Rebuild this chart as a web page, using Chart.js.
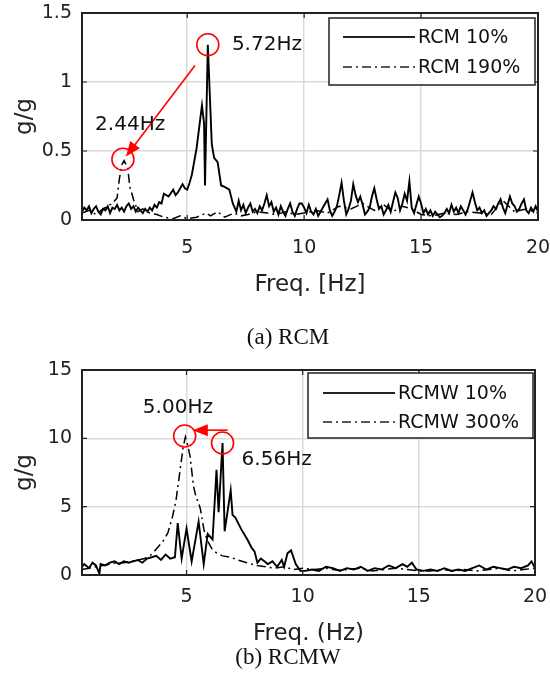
<!DOCTYPE html>
<html>
<head>
<meta charset="utf-8">
<script src="https://cdn.jsdelivr.net/npm/chart.js"></script>
<style>
  body { margin: 0; background: #fff; width: 550px; height: 698px; position: relative; overflow: hidden; }
  .box { position: absolute; left: 0; }
  .cap { position: absolute; font-family: "Liberation Serif", "Times New Roman", serif; font-size: 23px; color: #111;
         transform: translate(-50%, -50%); white-space: nowrap; }
</style>
</head>
<body>
<div class="box" style="top:0"><canvas id="rcm" width="550" height="350"></canvas></div>
<div class="box" style="top:350px"><canvas id="rcmw" width="550" height="348"></canvas></div>
<div class="cap" style="left:288px;top:337px">(a) RCM</div>
<div class="cap" style="left:288px;top:657px">(b) RCMW</div>
<script>
// tần số (Hz) và biên độ (g/g)
const rcm10Freq = [
  0.5, 0.6, 0.7, 0.8, 0.9, 1.0, 1.1, 1.2, 1.3, 1.4,
  1.5, 1.6, 1.7, 1.8, 1.9, 2.0, 2.1, 2.2, 2.3, 2.4,
  2.5, 2.6, 2.7, 2.8, 2.9, 3.0, 3.1, 3.2, 3.3, 3.4,
  3.5, 3.6, 3.7, 3.8, 3.9, 4.0,
  4.2, 4.4, 4.5, 4.6, 4.8, 4.9, 5.0, 5.1, 5.2, 5.4,
  5.63, 5.72, 5.76, 5.88, 6.05, 6.15, 6.3, 6.45, 6.6, 6.8, 6.95,
  7.0, 7.1, 7.2, 7.3, 7.4, 7.5, 7.6, 7.7, 7.8, 7.9,
  8.0, 8.1, 8.2, 8.3, 8.4, 8.5, 8.6, 8.7, 8.8, 8.9,
  9.0, 9.1, 9.2, 9.3, 9.4, 9.5, 9.6, 9.7, 9.8, 9.9,
  10.0, 10.1, 10.2, 10.3, 10.4, 10.5, 10.6, 10.7, 10.8, 10.9,
  11.0, 11.1, 11.2, 11.3, 11.4, 11.5, 11.6, 11.7, 11.8, 11.9,
  12.0, 12.1, 12.2, 12.3, 12.4, 12.5, 12.6, 12.7, 12.8, 12.9,
  13.0, 13.1, 13.2, 13.3, 13.4, 13.5, 13.6, 13.7, 13.8, 13.9,
  14.0, 14.1, 14.2, 14.3, 14.4, 14.5, 14.6, 14.7, 14.8, 14.9,
  15.0, 15.1, 15.2, 15.3, 15.4, 15.5, 15.6, 15.7, 15.8, 15.9,
  16.0, 16.1, 16.2, 16.3, 16.4, 16.5, 16.6, 16.7, 16.8, 16.9,
  17.0, 17.1, 17.2, 17.3, 17.4, 17.5, 17.6, 17.7, 17.8, 17.9,
  18.0, 18.1, 18.2, 18.3, 18.4, 18.5, 18.6, 18.7, 18.8, 18.9,
  19.0, 19.1, 19.2, 19.3, 19.4, 19.5, 19.6, 19.7, 19.8, 19.9,
  20.0
];
const rcm10Val = [
  0.06, 0.09, 0.07, 0.10, 0.05, 0.08, 0.10, 0.06, 0.04, 0.08,
  0.07, 0.10, 0.05, 0.09, 0.08, 0.11, 0.07, 0.09, 0.06, 0.10,
  0.12, 0.08, 0.10, 0.06, 0.09, 0.07, 0.05, 0.08, 0.06, 0.09,
  0.07, 0.11, 0.09, 0.13, 0.12, 0.19,
  0.17, 0.22, 0.18, 0.20, 0.26, 0.23, 0.22, 0.27, 0.33, 0.52,
  0.83, 0.70, 0.25, 1.27, 0.55, 0.45, 0.42, 0.25, 0.24, 0.22, 0.12,
  0.10, 0.06, 0.14, 0.07, 0.11, 0.05, 0.09, 0.12, 0.06, 0.08,
  0.05, 0.10, 0.07, 0.12, 0.18, 0.10, 0.13, 0.06, 0.09, 0.04,
  0.10, 0.06, 0.03, 0.08, 0.12, 0.06, 0.03, 0.08, 0.12, 0.12,
  0.09, 0.05, 0.11, 0.06, 0.04, 0.08, 0.03, 0.06, 0.09, 0.12,
  0.15, 0.07, 0.03, 0.06, 0.10, 0.18, 0.27, 0.14, 0.04, 0.08,
  0.14, 0.26, 0.18, 0.13, 0.17, 0.11, 0.04, 0.06, 0.09, 0.17,
  0.23, 0.15, 0.08, 0.10, 0.04, 0.07, 0.11, 0.06, 0.13, 0.20,
  0.16, 0.07, 0.12, 0.19, 0.14, 0.28, 0.09, 0.05, 0.11, 0.17,
  0.12, 0.05, 0.08, 0.04, 0.07, 0.03, 0.06, 0.04, 0.02, 0.03,
  0.05, 0.08, 0.05, 0.11, 0.06, 0.09, 0.05, 0.10, 0.07, 0.04,
  0.08, 0.14, 0.20, 0.13, 0.07, 0.09, 0.05, 0.07, 0.03, 0.05,
  0.07, 0.10, 0.08, 0.12, 0.15, 0.09, 0.05, 0.11, 0.17, 0.12,
  0.10, 0.06, 0.08, 0.12, 0.15, 0.07, 0.05, 0.09, 0.06, 0.10,
  0.06
];
const rcm190Freq = [
  0.5, 0.8, 1.1, 1.4, 1.6, 1.8, 2.0, 2.1, 2.2, 2.3,
  2.45, 2.55, 2.7, 2.9, 3.1, 3.4, 3.7, 4.0, 4.4, 4.7,
  5.0, 5.4, 5.8, 6.0, 6.3, 6.6, 7.0, 7.3, 7.6, 8.0,
  8.4, 8.8, 9.2, 9.6, 10.0, 10.5, 11.0, 11.5, 12.0, 12.5,
  13.0, 13.4, 13.8, 14.2, 14.6, 15.0, 15.5, 16.0, 16.5, 17.0,
  17.5, 18.0, 18.5, 19.0, 19.5, 20.0
];
const rcm190Val = [
  0.05, 0.07, 0.04, 0.08, 0.10, 0.12, 0.16, 0.30, 0.40, 0.43,
  0.38, 0.24, 0.15, 0.06, 0.08, 0.05, 0.04, 0.02, 0.01, 0.03,
  0.01, 0.02, 0.05, 0.03, 0.06, 0.02, 0.05, 0.03, 0.04, 0.06,
  0.05, 0.04, 0.06, 0.04, 0.05, 0.07, 0.05, 0.10, 0.08, 0.12,
  0.07, 0.11, 0.06, 0.10, 0.08, 0.04, 0.03, 0.05, 0.04, 0.06,
  0.05, 0.04, 0.14, 0.06, 0.08, 0.05
];
const rcmw10Freq = [
  0.5, 0.6, 0.8, 0.95, 1.1, 1.25, 1.3, 1.5, 1.7, 1.9,
  2.1, 2.3, 2.5, 2.7, 2.9, 3.1, 3.3, 3.5, 3.7, 3.9,
  4.1, 4.3, 4.5, 4.62, 4.79, 5.0, 5.22, 5.52, 5.74, 5.91,
  6.12, 6.29, 6.38, 6.55, 6.64, 6.9, 6.98, 7.1, 7.37, 7.62,
  7.8, 7.93, 8.05, 8.2, 8.5, 8.7, 8.9, 9.1, 9.2, 9.35,
  9.5, 9.7, 9.9, 10.1, 10.4, 10.7, 11.0, 11.3, 11.6, 11.9,
  12.2, 12.5, 12.8, 13.1, 13.4, 13.7, 14.0, 14.3, 14.5, 14.7,
  14.9, 15.2, 15.5, 15.8, 16.1, 16.4, 16.7, 17.0, 17.3, 17.6,
  17.9, 18.2, 18.5, 18.8, 19.1, 19.4, 19.7, 19.85, 20.0
];
const rcmw10Val = [
  0.6, 0.8, 0.5, 0.9, 0.7, 0.1, 0.8, 0.7, 0.9, 1.0,
  0.8, 1.0, 0.9, 1.0, 1.1, 0.9, 1.2, 1.3, 1.4, 1.1,
  1.5, 1.2, 1.3, 3.8, 1.2, 3.4, 1.0, 3.9, 0.8, 3.0,
  2.6, 7.7, 4.6, 9.65, 3.2, 6.2, 4.4, 4.2, 3.3, 2.6,
  2.0, 1.7, 0.9, 1.2, 0.8, 1.0, 0.6, 1.1, 0.6, 1.6,
  1.8, 0.8, 0.3, 0.3, 0.4, 0.3, 0.6, 0.5, 0.3, 0.5,
  0.4, 0.6, 0.3, 0.5, 0.4, 0.7, 0.5, 0.8, 0.6, 0.9,
  0.4, 0.3, 0.4, 0.3, 0.5, 0.3, 0.4, 0.3, 0.5, 0.7,
  0.4, 0.6, 0.5, 0.4, 0.6, 0.5, 0.7, 1.0, 0.5
];
const rcmw300Freq = [
  0.5, 0.8, 1.1, 1.4, 1.7, 2.0, 2.3, 2.6, 2.9, 3.2,
  3.5, 3.8, 4.0, 4.2, 4.4, 4.55, 4.7, 4.85, 4.95, 5.05,
  5.15, 5.3, 5.42, 5.5, 5.6, 5.75, 5.9, 6.1, 6.3, 6.55,
  6.9, 7.2, 7.6, 8.0, 8.4, 8.8, 9.2, 9.6, 10.0, 10.5,
  11.0, 11.5, 12.0, 12.5, 13.0, 13.5, 14.0, 14.5, 15.0, 15.5,
  16.0, 16.5, 17.0, 17.5, 18.0, 18.5, 19.0, 19.5, 20.0
];
const rcmw300Val = [
  0.4, 0.5, 0.6, 0.7, 0.8, 0.9, 0.9, 1.0, 1.1, 1.2,
  1.5, 2.1, 2.5, 3.1, 4.3, 5.5, 7.4, 9.3, 10.1, 9.5,
  8.7, 6.5, 5.6, 5.4, 4.8, 3.3, 2.5, 1.9, 1.6, 1.4,
  1.3, 1.1, 0.9, 0.7, 0.6, 0.5, 0.6, 0.4, 0.5, 0.4,
  0.5, 0.35, 0.4, 0.5, 0.3, 0.4, 0.5, 0.4, 0.3, 0.3,
  0.4, 0.3, 0.4, 0.3, 0.4, 0.5, 0.3, 0.4, 0.5
];
const xTicks = [5, 10, 15, 20];
const rcmYTicks = [0, 0.5, 1, 1.5];
const rcmwYTicks = [0, 5, 10, 15];

const FONT = "'DejaVu Sans', 'Liberation Sans', Arial, sans-serif";
const DASHDOT = [9, 4, 2, 4];

function pts(f, v) {
  return f.map((x, i) => ({ x: x, y: v[i] }));
}

// vẽ khung, vòng tròn đỏ, mũi tên, chữ và chú thích
const notes = {
  id: 'notes',
  afterDatasetsDraw(chart, args, o) {
    const ctx = chart.ctx;
    const a = chart.chartArea;
    const x = chart.scales.x, y = chart.scales.y;
    ctx.save();
    ctx.strokeStyle = '#222';
    ctx.lineWidth = 2;
    ctx.strokeRect(a.left, a.top, a.right - a.left, a.bottom - a.top);
    ctx.lineWidth = 1.2;
    ctx.beginPath();
    xTicks.forEach(v => {
      const p = x.getPixelForValue(v);
      ctx.moveTo(p, a.bottom); ctx.lineTo(p, a.bottom - 5);
      ctx.moveTo(p, a.top); ctx.lineTo(p, a.top + 5);
    });
    o.yTicks.forEach(v => {
      const p = y.getPixelForValue(v);
      ctx.moveTo(a.left, p); ctx.lineTo(a.left + 5, p);
      ctx.moveTo(a.right, p); ctx.lineTo(a.right - 5, p);
    });
    ctx.stroke();

    // vòng tròn
    ctx.strokeStyle = '#f00';
    ctx.lineWidth = 1.6;
    o.circles.forEach(c => {
      ctx.beginPath();
      ctx.arc(x.getPixelForValue(c[0]), y.getPixelForValue(c[1]), 11, 0, Math.PI * 2);
      ctx.stroke();
    });
    // mũi tên
    const x1 = x.getPixelForValue(o.arrow[0]), y1 = y.getPixelForValue(o.arrow[1]);
    const x2 = x.getPixelForValue(o.arrow[2]), y2 = y.getPixelForValue(o.arrow[3]);
    const ang = Math.atan2(y2 - y1, x2 - x1);
    ctx.beginPath();
    ctx.moveTo(x1, y1);
    ctx.lineTo(x2 - 12 * Math.cos(ang), y2 - 12 * Math.sin(ang));
    ctx.stroke();
    ctx.fillStyle = '#f00';
    ctx.beginPath();
    ctx.moveTo(x2, y2);
    ctx.lineTo(x2 - 15 * Math.cos(ang) + 6 * Math.sin(ang), y2 - 15 * Math.sin(ang) - 6 * Math.cos(ang));
    ctx.lineTo(x2 - 15 * Math.cos(ang) - 6 * Math.sin(ang), y2 - 15 * Math.sin(ang) + 6 * Math.cos(ang));
    ctx.closePath();
    ctx.fill();

    // chữ
    ctx.fillStyle = '#111';
    ctx.font = '20px ' + FONT;
    ctx.textBaseline = 'middle';
    ctx.textAlign = 'left';
    o.texts.forEach(t => ctx.fillText(t[0], x.getPixelForValue(t[1]), y.getPixelForValue(t[2])));

    // chú thích
    const L = o.legend;
    const bx = a.right - L.right - L.w, by = a.top + L.top;
    ctx.fillStyle = '#fff';
    ctx.fillRect(bx, by, L.w, L.h);
    ctx.strokeStyle = '#222';
    ctx.lineWidth = 1.5;
    ctx.strokeRect(bx, by, L.w, L.h);
    ctx.font = '19px ' + FONT;
    ctx.fillStyle = '#111';
    L.labels.forEach((lab, i) => {
      const ly = by + L.rows[i];
      ctx.beginPath();
      ctx.setLineDash(i === 0 ? [] : DASHDOT);
      ctx.lineWidth = i === 0 ? 2 : 1.5;
      ctx.moveTo(bx + L.line[0], ly);
      ctx.lineTo(bx + L.line[1], ly);
      ctx.stroke();
      ctx.setLineDash([]);
      ctx.fillText(lab, bx + L.line[1] + 3, ly + 1);
    });
    ctx.restore();
  }
};

function makeChart(id, s) {
  const ctx = document.getElementById(id).getContext('2d');
  return new Chart(ctx, {
    type: 'line',
    data: {
      datasets: [
        { data: pts(s.f1, s.v1), borderColor: '#000', borderWidth: 1.9 },
        { data: pts(s.f2, s.v2), borderColor: '#000', borderWidth: 1.5, borderDash: DASHDOT }
      ]
    },
    options: {
      responsive: false,
      animation: false,
      devicePixelRatio: 1,
      layout: { padding: { top: s.padTop, right: s.padRight, left: 0, bottom: 0 } },
      elements: { point: { radius: 0 }, line: { tension: 0 } },
      plugins: {
        legend: { display: false },
        tooltip: { enabled: false },
        notes: s.notes
      },
      scales: {
        x: {
          type: 'linear',
          min: 0.5,
          max: 20,
          afterBuildTicks: ax => { ax.ticks = xTicks.map(v => ({ value: v })); },
          afterFit: ax => { ax.height = s.xHeight; ax.paddingLeft = 0; ax.paddingRight = 0; },
          grid: { color: '#dadada', lineWidth: 1.5, drawTicks: false },
          border: { display: false },
          ticks: { color: '#222', font: { family: FONT, size: 19 }, padding: s.tickPad, maxRotation: 0,
                   callback: v => String(v) },
          title: { display: true, text: s.xTitle, color: '#222', font: { family: FONT, size: 23 },
                   padding: { top: 0, bottom: s.titlePad } }
        },
        y: {
          min: 0,
          max: s.yTicks[s.yTicks.length - 1],
          afterBuildTicks: ax => { ax.ticks = s.yTicks.map(v => ({ value: v })); },
          afterFit: ax => { ax.width = 82; ax.paddingTop = 0; ax.paddingBottom = 0; },
          grid: { color: '#dadada', lineWidth: 1.5, drawTicks: false },
          border: { display: false },
          ticks: { color: '#222', font: { family: FONT, size: 19 }, padding: 10,
                   callback: v => String(v) },
          title: { display: true, text: 'g/g', color: '#222', font: { family: FONT, size: 23 },
                   padding: { top: 11, bottom: 0 } }
        }
      }
    },
    plugins: [notes]
  });
}

makeChart('rcm', {
  f1: rcm10Freq, v1: rcm10Val, f2: rcm190Freq, v2: rcm190Val,
  yTicks: rcmYTicks, xTitle: 'Freq. [Hz]',
  padTop: 13, padRight: 12, xHeight: 130, tickPad: 17, titlePad: 51,
  notes: {
    yTicks: rcmYTicks,
    circles: [[5.88, 1.27], [2.25, 0.44]],
    arrow: [5.33, 1.12, 2.38, 0.46],
    texts: [['5.72Hz', 6.91, 1.27], ['2.44Hz', 1.06, 0.69]],
    legend: { labels: ['RCM 10%', 'RCM 190%'], w: 206, h: 67, right: 3, top: 5, rows: [19, 49], line: [14, 86] }
  }
});

makeChart('rcmw', {
  f1: rcmw10Freq, v1: rcmw10Val, f2: rcmw300Freq, v2: rcmw300Val,
  yTicks: rcmwYTicks, xTitle: 'Freq. (Hz)',
  padTop: 20, padRight: 15, xHeight: 123, tickPad: 11, titlePad: 50,
  notes: {
    yTicks: rcmwYTicks,
    circles: [[4.92, 10.17], [6.55, 9.66]],
    arrow: [6.77, 10.6, 5.27, 10.6],
    texts: [['5.00Hz', 3.12, 12.2], ['6.56Hz', 7.37, 8.4]],
    legend: { labels: ['RCMW 10%', 'RCMW 300%'], w: 225, h: 65, right: 2, top: 3, rows: [20, 49], line: [15, 87] }
  }
});
</script>
</body>
</html>
